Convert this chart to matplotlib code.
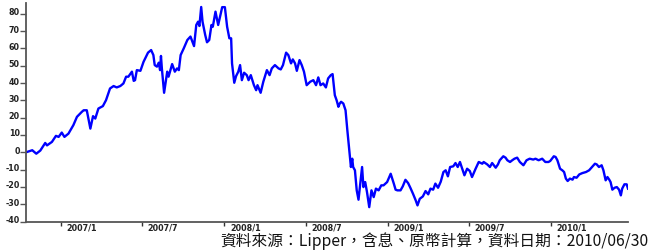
import matplotlib
matplotlib.use("Agg")
import matplotlib.pyplot as plt
import matplotlib.transforms as mtransforms
import pandas as pd

dates = [
    "2006-10-14", "2006-10-28", "2006-11-06", "2006-11-15", "2006-11-26", "2006-11-30",
    "2006-12-11", "2006-12-20", "2006-12-26", "2007-01-02", "2007-01-08", "2007-01-17",
    "2007-01-28", "2007-02-05", "2007-02-16", "2007-02-20", "2007-02-27", "2007-03-07",
    "2007-03-13", "2007-03-18", "2007-03-25", "2007-04-04", "2007-04-11", "2007-04-20",
    "2007-04-28", "2007-05-05", "2007-05-13", "2007-05-20", "2007-05-26", "2007-05-31",
    "2007-06-08", "2007-06-12", "2007-06-15", "2007-06-19", "2007-06-27", "2007-07-04",
    "2007-07-14", "2007-07-21", "2007-07-26", "2007-07-29", "2007-08-03", "2007-08-07",
    "2007-08-10", "2007-08-12", "2007-08-14", "2007-08-19", "2007-08-26", "2007-08-29",
    "2007-09-06", "2007-09-12", "2007-09-17", "2007-09-21", "2007-09-25", "2007-10-02",
    "2007-10-10", "2007-10-17", "2007-10-25", "2007-10-30", "2007-11-03", "2007-11-06",
    "2007-11-10", "2007-11-13", "2007-11-19", "2007-11-23", "2007-11-28", "2007-12-03",
    "2007-12-06", "2007-12-12", "2007-12-18", "2007-12-27", "2008-01-02", "2008-01-07",
    "2008-01-12", "2008-01-16", "2008-01-18", "2008-01-23", "2008-01-27", "2008-02-01",
    "2008-02-05", "2008-02-09", "2008-02-14", "2008-02-20", "2008-02-24", "2008-02-29",
    "2008-03-07", "2008-03-12", "2008-03-15", "2008-03-22", "2008-03-28", "2008-04-05",
    "2008-04-11", "2008-04-16", "2008-04-23", "2008-05-01", "2008-05-06", "2008-05-11",
    "2008-05-18", "2008-05-23", "2008-05-29", "2008-06-02", "2008-06-07", "2008-06-11",
    "2008-06-17", "2008-06-22", "2008-06-27", "2008-07-03", "2008-07-11", "2008-07-18",
    "2008-07-24", "2008-07-29", "2008-08-03", "2008-08-09", "2008-08-15", "2008-08-20",
    "2008-08-26", "2008-08-30", "2008-09-04", "2008-09-08", "2008-09-12", "2008-09-15",
    "2008-09-18", "2008-09-23", "2008-09-28", "2008-10-02", "2008-10-07", "2008-10-10",
    "2008-10-13", "2008-10-15", "2008-10-19", "2008-10-23", "2008-10-27", "2008-10-31",
    "2008-11-04", "2008-11-07", "2008-11-11", "2008-11-15", "2008-11-20", "2008-11-25",
    "2008-11-30", "2008-12-05", "2008-12-11", "2008-12-17", "2008-12-22", "2008-12-30",
    "2009-01-07", "2009-01-14", "2009-01-18", "2009-01-22", "2009-01-29", "2009-02-03",
    "2009-02-09", "2009-02-15", "2009-02-20", "2009-02-26", "2009-03-04", "2009-03-08",
    "2009-03-13", "2009-03-20", "2009-03-26", "2009-04-01", "2009-04-06", "2009-04-12",
    "2009-04-17", "2009-04-23", "2009-04-29", "2009-05-05", "2009-05-10", "2009-05-15",
    "2009-05-20", "2009-05-27", "2009-06-01", "2009-06-06", "2009-06-11", "2009-06-16",
    "2009-06-21", "2009-06-27", "2009-07-03", "2009-07-08", "2009-07-16", "2009-07-23",
    "2009-07-31", "2009-08-03", "2009-08-11", "2009-08-17", "2009-08-22", "2009-08-30",
    "2009-09-04", "2009-09-08", "2009-09-16", "2009-09-21", "2009-09-25", "2009-10-01",
    "2009-10-06", "2009-10-11", "2009-10-17", "2009-10-23", "2009-10-31", "2009-11-07",
    "2009-11-14", "2009-11-22", "2009-11-27", "2009-12-04", "2009-12-12", "2009-12-19",
    "2009-12-26", "2009-12-30", "2010-01-07", "2010-01-11", "2010-01-15", "2010-01-21",
    "2010-01-26", "2010-01-30", "2010-02-03", "2010-02-07", "2010-02-12", "2010-02-18",
    "2010-02-21", "2010-02-27", "2010-03-05", "2010-03-12", "2010-03-20", "2010-03-27",
    "2010-04-04", "2010-04-09", "2010-04-13", "2010-04-18", "2010-04-24", "2010-04-28",
    "2010-05-03", "2010-05-07", "2010-05-11", "2010-05-14", "2010-05-18", "2010-05-23",
    "2010-05-28", "2010-06-02", "2010-06-06", "2010-06-09", "2010-06-14", "2010-06-19",
    "2010-06-22",
]

returns = [
    0.0, 1.2, -0.8, 1.0, 5.4, 4.0,
    6.0, 9.5, 8.9, 11.4, 8.9, 10.8,
    15.7, 20.5, 23.4, 24.3, 24.3, 13.7,
    20.9, 19.5, 25.3, 26.7, 30.1, 36.9,
    38.3, 37.5, 38.3, 39.8, 43.7, 43.7,
    46.6, 41.3, 41.7, 47.5, 47.1, 52.3,
    57.6, 59.1, 56.2, 50.4, 49.5, 51.8,
    47.5, 55.7, 48.5, 34.4, 46.6, 43.7,
    51.0, 46.6, 48.5, 47.5, 56.2, 60.1,
    64.9, 66.9, 61.4, 73.6, 75.5, 73.0,
    84.0, 75.5, 67.8, 63.6, 64.9, 73.6,
    72.6, 81.3, 73.6, 83.9, 83.9, 72.6,
    65.9, 65.9, 51.4, 40.2, 44.0, 46.6,
    50.4, 41.7, 46.0, 44.6, 41.7, 44.6,
    38.8, 35.9, 38.8, 34.4, 40.8, 47.5,
    44.6, 48.5, 50.4, 48.5, 47.9, 50.4,
    57.6, 56.2, 51.4, 53.7, 51.4, 47.1,
    53.3, 50.4, 46.6, 38.8, 40.8, 41.7,
    38.8, 43.3, 38.8, 39.8, 37.5, 42.7,
    44.6, 45.2, 33.0, 30.1, 26.3, 28.2,
    29.2, 28.2, 24.3, 12.8, -0.8, -8.5,
    -3.7, -8.5, -10.4, -22.0, -27.4, -18.1,
    -8.5, -20.1, -17.2, -23.0, -31.7, -22.0,
    -25.9, -21.0, -22.0, -19.1, -19.1, -17.2,
    -12.4, -18.1, -21.6, -22.0, -22.0, -19.7,
    -15.9, -17.8, -20.5, -24.0, -27.8, -30.7,
    -26.9, -25.5, -22.4, -24.3, -21.0, -21.6,
    -18.1, -20.5, -17.0, -11.4, -10.4, -13.9,
    -8.5, -8.1, -6.2, -8.5, -5.6, -9.5,
    -13.3, -9.5, -10.8, -14.3, -9.5, -5.6,
    -6.6, -5.6, -7.0, -8.5, -6.2, -8.9,
    -7.0, -4.6, -2.3, -3.1, -4.6, -5.6,
    -4.6, -3.7, -3.1, -5.6, -7.5, -4.6,
    -3.7, -4.2, -3.7, -4.6, -3.7, -5.6,
    -5.6, -5.0, -2.3, -2.7, -4.6, -9.5,
    -10.4, -11.4, -15.2, -16.6, -15.2, -15.8,
    -14.3, -14.7, -12.8, -12.0, -11.4, -10.4,
    -8.1, -6.6, -7.0, -8.5, -7.5, -10.4,
    -16.2, -14.3, -15.8, -17.2, -21.6, -20.5,
    -20.1, -21.6, -24.9, -21.0, -18.5, -18.5,
    -21.0,
]

x_tick_dates = ["2007-01-01", "2007-07-01", "2008-01-01", "2008-07-01",
                "2009-01-01", "2009-07-01", "2010-01-01"]
x_tick_labels = ["2007/1", "2007/7", "2008/1", "2008/7", "2009/1", "2009/7", "2010/1"]
y_ticks = [80, 70, 60, 50, 40, 30, 20, 10, 0, -10, -20, -30, -40]
source_text = "資料來源：Lipper，含息、原幣計算，資料日期：2010/06/30"

dt = pd.to_datetime(dates)

fig = plt.figure(figsize=(6.48, 2.52), dpi=100)
ax = fig.add_axes([26 / 648, 1 - 221.5 / 252, (628 - 26) / 648, (221.5 - 3) / 252])

ax.plot(dt, returns, color="#0000ff", lw=1.7, solid_joinstyle="round")

ax.set_xlim(dt[0], dt[-1])
ax.set_ylim(-40, 86.3)

for s in ["top", "right"]:
    ax.spines[s].set_visible(False)
for s in ["left", "bottom"]:
    ax.spines[s].set_color("#555555")
    ax.spines[s].set_linewidth(1.3)

tick_font = dict(fontsize=5.8, fontweight="bold", family="DejaVu Sans", color="#222222")

ax.set_yticks(y_ticks)
ax.set_yticklabels([str(v) for v in y_ticks], **tick_font)
ax.tick_params(axis="y", direction="out", length=4, width=1.0, color="#555555", pad=0.5)
for lab in ax.get_yticklabels():
    lab.set_transform(lab.get_transform() + mtransforms.ScaledTranslation(0, 2 / 100, fig.dpi_scale_trans))

ax.set_xticks(pd.to_datetime(x_tick_dates))
ax.set_xticklabels(x_tick_labels, **tick_font)
ax.tick_params(axis="x", direction="out", length=3, width=1.0, color="#333333", pad=-1.5)
for lab in ax.get_xticklabels():
    lab.set_ha("left")
    lab.set_transform(lab.get_transform() + mtransforms.ScaledTranslation(5.5 / 100, 0, fig.dpi_scale_trans))

fig.text(1.0, 1 - 241.5 / 252, source_text, ha="right", va="center", fontsize=11.3,
         family=["Noto Sans CJK TC", "DejaVu Sans"], color="#111111")

fig.savefig("out.png", dpi=100)
